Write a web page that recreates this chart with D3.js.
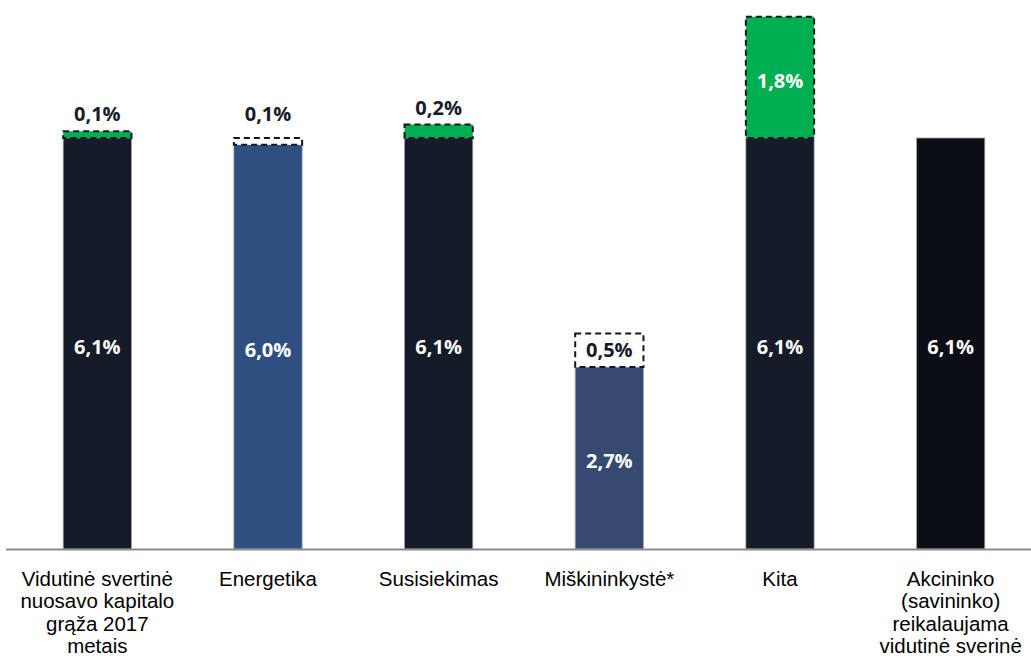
<!DOCTYPE html>
<html>
<head>
<meta charset="utf-8">
<script src="https://cdn.jsdelivr.net/npm/d3@7"></script>
<style>
  body { margin: 0; background: #fff; }
</style>
</head>
<body>
<script>
// categories and values
let categories = [
  ["Vidutinė svertinė", "nuosavo kapitalo", "grąža 2017", "metais"],
  ["Energetika"],
  ["Susisiekimas"],
  ["Miškininkystė*"],
  ["Kita"],
  ["Akcininko", "(savininko)", "reikalaujama", "vidutinė sverinė"]
];
let baseValues = [6.1, 6.0, 6.1, 2.7, 6.1, 6.1];
let extraValues = [0.1, 0.1, 0.2, 0.5, 1.8, 0];
let extraKinds = ["green", "empty", "green", "empty", "green", null];
let barColors = ["#151b28", "#2e4f80", "#151b28", "#364a71", "#151b28", "#0b0e15"];

let width = 1031,
  height = 658,
  baseline = 549;

let fmt = v => d3.format(".1f")(v).replace(".", ",") + "%";

let x = d3.scaleBand()
  .domain(d3.range(categories.length))
  .range([12, 1036])
  .paddingInner(0.6)
  .paddingOuter(0.3);

let y = d3.scaleLinear()
  .domain([0, 6.1])
  .range([baseline, 138]);

let maxBase = d3.max(baseValues);

let svg = d3.select("body").append("svg")
  .attr("width", width)
  .attr("height", height);

let g = svg.selectAll("g.bar")
  .data(baseValues)
  .enter().append("g")
  .attr("class", "bar");

// base bars
g.append("rect")
  .attr("x", (d, i) => x(i))
  .attr("width", x.bandwidth())
  .attr("y", d => y(d))
  .attr("height", d => baseline - y(d))
  .attr("fill", (d, i) => barColors[i])
  .attr("stroke", "#a0a4ab")
  .attr("stroke-width", 0.8);

g.append("text")
  .attr("x", (d, i) => x(i) + x.bandwidth() / 2)
  .attr("y", d => (y(d) + baseline) / 2)
  .attr("dy", ".52em")
  .attr("text-anchor", "middle")
  .attr("font-family", "'Open Sans', sans-serif")
  .attr("font-weight", "bold")
  .attr("font-size", 20)
  .attr("fill", "#fff")
  .text(d => fmt(d));

// increments on top
g.each(function(d, i) {
  let kind = extraKinds[i];
  if (!kind) return;
  let sel = d3.select(this);
  let e = extraValues[i];
  let top = y(d + e), bottom = y(d);
  sel.append("rect")
    .attr("x", x(i))
    .attr("width", x.bandwidth())
    .attr("y", top)
    .attr("height", bottom - top)
    .attr("fill", kind === "green" ? "#00b050" : "#fff")
    .attr("stroke", "#111620")
    .attr("stroke-width", 2)
    .attr("stroke-dasharray", "6,4");

  let inside = bottom - top > 25;
  sel.append("text")
    .attr("x", x(i) + x.bandwidth() / 2)
    .attr("y", inside ? (top + bottom) / 2 : y(maxBase + e) - 17)
    .attr("dy", inside && kind === "green" ? ".55em" : ".36em")
    .attr("text-anchor", "middle")
    .attr("font-family", "'Open Sans', sans-serif")
    .attr("font-weight", "bold")
    .attr("font-size", 20)
    .attr("fill", inside && kind === "green" ? "#fff" : "#151b28")
    .text(fmt(e));
});

// axis line
svg.append("line")
  .attr("x1", 6)
  .attr("x2", width)
  .attr("y1", baseline + 0.5)
  .attr("y2", baseline + 0.5)
  .attr("stroke", "#8c8c8c")
  .attr("stroke-width", 2);

// category labels
let labels = svg.selectAll("text.cat")
  .data(categories)
  .enter().append("text")
  .attr("class", "cat")
  .attr("text-anchor", "middle")
  .attr("font-family", "'Liberation Sans', Arial, sans-serif")
  .attr("font-size", 20.5)
  .attr("fill", "#000");

labels.selectAll("tspan")
  .data((d, i) => d.map(t => ({ t, i })))
  .enter().append("tspan")
  .attr("x", d => x(d.i) + x.bandwidth() / 2)
  .attr("y", (d, j) => 586 + j * 22.3)
  .text(d => d.t);
</script>
</body>
</html>
